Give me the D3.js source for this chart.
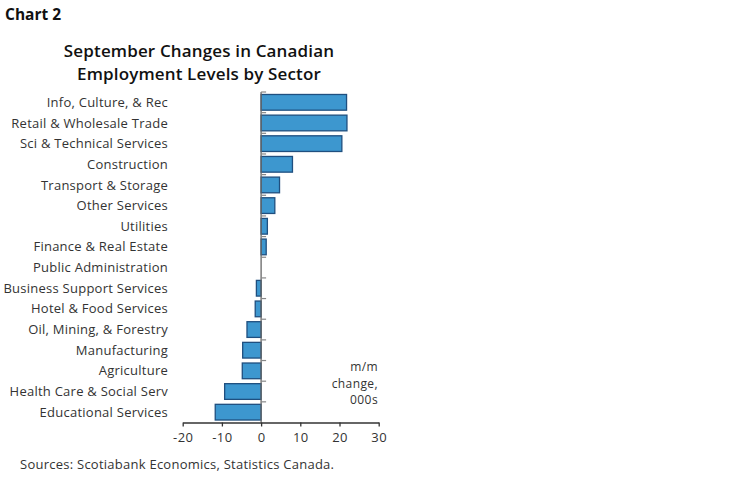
<!DOCTYPE html>
<html>
<head>
<meta charset="utf-8">
<script src="https://cdn.jsdelivr.net/npm/d3@7"></script>
<style>
  body { margin: 0; background: #fff; }
  text { font-family: "Open Sans", sans-serif; fill: #333; }
</style>
</head>
<body>
<svg id="chart" width="749" height="482"></svg>
<script>
// sectors, top to bottom
var sectors = ["Info, Culture, & Rec", "Retail & Wholesale Trade", "Sci & Technical Services",
    "Construction", "Transport & Storage", "Other Services", "Utilities", "Finance & Real Estate",
    "Public Administration", "Business Support Services", "Hotel & Food Services",
    "Oil, Mining, & Forestry", "Manufacturing", "Agriculture", "Health Care & Social Serv",
    "Educational Services"];
// m/m change, 000s
var changes = [21.8, 21.9, 20.6, 8.0, 4.7, 3.5, 1.6, 1.3, 0.0, -1.2, -1.5, -3.6, -4.7, -4.8, -9.3, -11.7];
var xTicks = [-20, -10, 0, 10, 20, 30];
var noteLines = ["m/m", "change,", "000s"];

var svg = d3.select("#chart");

var x = d3.scaleLinear().domain([-20, 30]).range([182.7, 378.7]);
var y = d3.scaleBand().domain(sectors).range([92, 422.5]).paddingInner(0.24).paddingOuter(0.12);

svg.append("text").attr("x", 5).attr("y", 20)
    .style("font-size", "15.5px").style("font-weight", "bold").style("fill", "#111")
    .text("Chart 2");

var title = svg.append("text").attr("text-anchor", "middle")
    .style("font-size", "17px").style("font-weight", "600").style("fill", "#111")
    .style("letter-spacing", "0.15px");
title.append("tspan").attr("x", 199).attr("y", 57).text("September Changes in Canadian");
title.append("tspan").attr("x", 199).attr("y", 80).text("Employment Levels by Sector");

// bars
svg.selectAll(".bar")
    .data(changes)
    .enter()
    .append("rect")
    .attr("class", "bar")
    .attr("x", function (d) { return x(Math.min(0, d)) })
    .attr("y", function (d, i) { return y(sectors[i]) })
    .attr("width", function (d) { return Math.abs(x(d) - x(0)) })
    .attr("height", y.bandwidth())
    .style("fill", "#3d97cf")
    .style("stroke", "#1f4f7f")
    .style("stroke-width", 1.3);

// category labels
svg.selectAll(".label")
    .data(sectors)
    .enter()
    .append("text")
    .attr("class", "label")
    .attr("x", 168)
    .attr("y", function (d) { return y(d) + y.bandwidth() / 2 })
    .attr("dy", "0.35em")
    .attr("text-anchor", "end")
    .style("font-size", "13px")
    .style("letter-spacing", "0.25px")
    .text(function (d) { return d });

// vertical axis at zero, ticks between bands
var step = y.step();
var boundaries = d3.range(sectors.length).map(function (i) { return 92 + i * step });
svg.append("line")
    .attr("x1", x(0)).attr("x2", x(0))
    .attr("y1", 92).attr("y2", 422.5)
    .style("stroke", "#666").style("stroke-width", 1.3);
svg.selectAll(".ytick")
    .data(boundaries)
    .enter()
    .append("line")
    .attr("class", "ytick")
    .attr("x1", x(0)).attr("x2", x(0) + 5)
    .attr("y1", function (d) { return d }).attr("y2", function (d) { return d })
    .style("stroke", "#888").style("stroke-width", 1.2);

// x axis
var xAxis = svg.append("g")
    .attr("transform", "translate(0,422.5)")
    .call(d3.axisBottom(x).tickValues(xTicks).tickSize(4).tickSizeOuter(0).tickPadding(6)
        .tickFormat(function (d) { return "" + d }));
xAxis.select(".domain").style("stroke", "#333").style("stroke-width", 1.3);
xAxis.selectAll(".tick line").style("stroke", "#333").style("stroke-width", 1.3);
xAxis.selectAll(".tick text")
    .style("font-family", "'Open Sans', sans-serif")
    .style("font-size", "13px").style("letter-spacing", "0.4px").style("fill", "#333");

// units note
svg.selectAll(".note")
    .data(noteLines)
    .enter()
    .append("text")
    .attr("class", "note")
    .attr("text-anchor", "end")
    .attr("x", 378)
    .attr("y", function (d, i) { return 371 + i * 16.5 })
    .style("font-size", "12px").style("letter-spacing", "0.4px")
    .text(function (d) { return d });

svg.append("text").attr("x", 20).attr("y", 469)
    .style("font-size", "13px").style("letter-spacing", "0.25px")
    .text("Sources: Scotiabank Economics, Statistics Canada.");
</script>
</body>
</html>
